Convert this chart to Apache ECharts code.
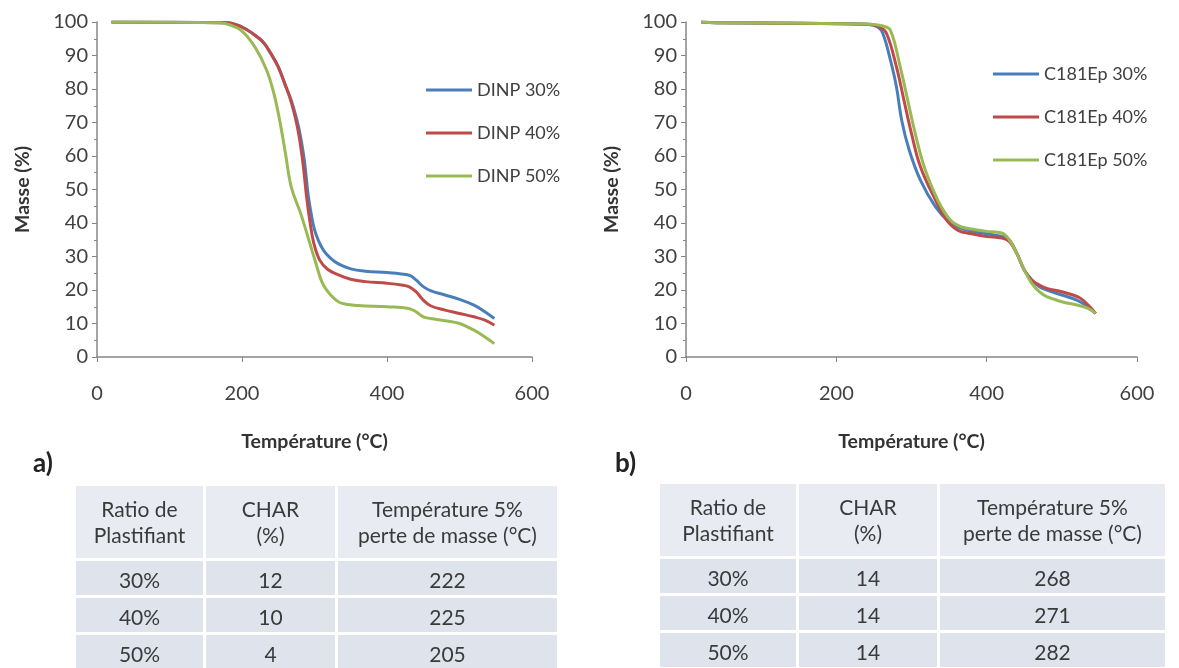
<!DOCTYPE html>
<html>
<head>
<meta charset="utf-8">
<script src="https://cdn.jsdelivr.net/npm/echarts@6/dist/echarts.min.js"></script>
<style>
  html, body { margin: 0; padding: 0; background: #fff; }
  #wrap { position: relative; width: 1179px; height: 668px; overflow: hidden; }
  #chart { position: absolute; left: 0; top: 0; width: 1179px; height: 668px; }
  table.tg { position: absolute; border-collapse: separate; border-spacing: 3px; font-family: Lato, "Open Sans", sans-serif; color: #3a3a3a; }
  table.tg td { text-align: center; padding: 0; background: #dfe4ec; font-size: 21px; line-height: 26px; box-sizing: border-box; }
  table.tg tr.hd td { background: #e8ebf1; height: 72px; }
  table.tg tr.rw td { height: 34px; padding-top: 4px; }
</style>
</head>
<body>
<div id="wrap">
  <div id="chart"></div>
  <table class="tg" id="tabA"></table>
  <table class="tg" id="tabB"></table>
</div>
<script>
// ---- données ATG ----
// a) DINP
var dinp30T = [20, 180, 200, 215, 229, 240, 250, 260, 268, 278, 286, 291, 296, 300, 305, 312, 322, 333, 350, 370, 400, 420, 432, 440, 450, 460, 480, 500, 520, 535, 548];
var dinp30M = [100, 99.8, 98.5, 96.5, 94, 90.5, 86.6, 81, 76.6, 68.7, 58.7, 48.8, 42, 38, 35, 32, 29.5, 27.8, 26.3, 25.6, 25.2, 24.8, 24.3, 23, 21, 19.8, 18.5, 17.2, 15.5, 13.5, 11.5];
var dinp40T = [20, 180, 200, 215, 229, 240, 250, 260, 268, 277, 284, 289, 294, 299, 307, 318, 333, 350, 370, 400, 420, 430, 440, 450, 460, 480, 500, 520, 535, 548];
var dinp40M = [100, 99.8, 98.5, 96.5, 94, 90.5, 86.6, 81, 76, 68, 58, 48, 40, 34, 29, 26.2, 24.5, 23.2, 22.5, 22, 21.5, 21, 19.5, 17, 15.3, 14, 13, 12, 11, 9.5];
var dinp50T = [20, 170, 185, 200, 218, 234, 244, 252, 260, 268, 281, 291, 302, 310, 317, 328, 338, 360, 400, 430, 440, 450, 460, 480, 500, 520, 535, 548];
var dinp50M = [100, 99.8, 99, 97.3, 92.5, 85.6, 78.6, 70.6, 60.7, 50.7, 42.8, 35.8, 27.9, 22.5, 19.9, 17.3, 16, 15.4, 15, 14.5, 13.5, 12, 11.5, 10.8, 10, 8, 6, 4];

// b) C181Ep
var c30T = [20, 40, 150, 240, 255, 262, 272, 280, 287, 297, 312, 332, 350, 362, 380, 400, 420, 430, 440, 450, 460, 470, 480, 500, 520, 535, 545];
var c30M = [100, 99.8, 99.6, 99.3, 98.5, 96.5, 88.6, 80.6, 70.6, 61.7, 52.7, 44.8, 40.3, 38.8, 37.5, 36.8, 36, 35, 31, 26, 23, 21, 20, 18.5, 17, 15, 13];
var c40T = [20, 40, 150, 240, 258, 267, 280, 290, 300, 312, 332, 347, 362, 380, 400, 420, 430, 440, 450, 460, 470, 480, 500, 515, 525, 535, 545];
var c40M = [100, 99.8, 99.6, 99.3, 98.5, 96.5, 86.6, 76.6, 66.7, 56.7, 46.8, 40.8, 37.8, 36.8, 36, 35.5, 34.5, 31, 26, 23, 21.5, 20.5, 19.5, 18.5, 17.5, 15.5, 13];
var c50T = [20, 40, 150, 240, 262, 272, 285, 295, 305, 317, 335, 352, 367, 385, 400, 420, 430, 440, 450, 460, 470, 480, 500, 520, 535, 545];
var c50M = [100, 99.8, 99.6, 99.4, 98.8, 97.5, 86.6, 76.6, 66.7, 56.7, 46.8, 40.8, 38.8, 38, 37.5, 37, 35, 31, 26, 22, 19.5, 18, 16.5, 15.5, 14.5, 13];

var namesA = ['DINP 30%', 'DINP 40%', 'DINP 50%'];
var namesB = ['C181Ep 30%', 'C181Ep 40%', 'C181Ep 50%'];
var couleurs = ['#4a7ebb', '#be4b48', '#98b954'];

// tableaux
var tabHeader = ['Ratio de<br>Plastifiant', 'CHAR<br>(%)', 'Température 5%<br>perte de masse (°C)'];
var ratios = ['30%', '40%', '50%'];
var charA = [12, 10, 4];
var t5A = [222, 225, 205];
var charB = [14, 14, 14];
var t5B = [268, 271, 282];

function paires(t, m) {
  return t.map(function (v, i) { return [v, m[i]]; });
}

var police = 'Lato, "Open Sans", sans-serif';
var gris = '#868686';
var texte = '#404040';

function axeX(idx) {
  return {
    type: 'value', gridIndex: idx, min: 0, max: 600, interval: 200,
    name: 'Température (°C)', nameLocation: 'middle', nameGap: 75,
    nameTextStyle: { fontFamily: police, fontWeight: 'bold', fontSize: 19.5, color: '#333' },
    axisLine: { lineStyle: { color: gris, width: 1.5 } },
    axisTick: { show: true, length: 5, lineStyle: { color: gris } },
    axisLabel: { fontFamily: police, fontSize: 20, color: texte, margin: 27 },
    splitLine: { show: false }
  };
}
function axeY(idx) {
  return {
    type: 'value', gridIndex: idx, min: 0, max: 100, interval: 10,
    name: 'Masse (%)', nameLocation: 'middle', nameGap: 64, nameRotate: 90,
    nameTextStyle: { fontFamily: police, fontWeight: 'bold', fontSize: 19.5, color: '#333' },
    axisLine: { show: true, lineStyle: { color: gris, width: 1.5 } },
    axisTick: { show: true, length: 5, lineStyle: { color: gris } },
    minorTick: { show: true, splitNumber: 2, length: 3, lineStyle: { color: gris } },
    axisLabel: { fontFamily: police, fontSize: 20, color: texte, margin: 9 },
    splitLine: { show: false }
  };
}
function serie(nom, t, m, c, idx) {
  return {
    name: nom, type: 'line', xAxisIndex: idx, yAxisIndex: idx,
    data: paires(t, m), showSymbol: false, smooth: 0.4,
    lineStyle: { color: c, width: 3 }, itemStyle: { color: c }
  };
}
function legende(noms, left, top) {
  return {
    data: noms, orient: 'vertical', left: left, top: top,
    icon: 'rect', itemWidth: 46, itemHeight: 3, itemGap: 23,
    textStyle: { fontFamily: police, fontSize: 18, color: texte, lineHeight: 20 }
  };
}

var chart = echarts.init(document.getElementById('chart'));
var option = {
  animation: false,
  grid: [
    { left: 97, top: 22, width: 435, height: 335 },
    { left: 686, top: 22, width: 451, height: 335 }
  ],
  xAxis: [axeX(0), axeX(1)],
  yAxis: [axeY(0), axeY(1)],
  legend: [legende(namesA, 421, 75), legende(namesB, 988, 59)],
  series: [
    serie(namesA[0], dinp30T, dinp30M, couleurs[0], 0),
    serie(namesA[1], dinp40T, dinp40M, couleurs[1], 0),
    serie(namesA[2], dinp50T, dinp50M, couleurs[2], 0),
    serie(namesB[0], c30T, c30M, couleurs[0], 1),
    serie(namesB[1], c40T, c40M, couleurs[1], 1),
    serie(namesB[2], c50T, c50M, couleurs[2], 1)
  ],
  graphic: [
    { type: 'text', left: 33, top: 451, style: { text: 'a)', font: 'bold 26px ' + police, fill: '#222' } },
    { type: 'text', left: 615, top: 451, style: { text: 'b)', font: 'bold 26px ' + police, fill: '#222' } }
  ]
};
chart.setOption(option);

function remplir(id, left, top, larg, chars, t5) {
  var tb = document.getElementById(id);
  tb.style.left = left + 'px';
  tb.style.top = top + 'px';
  var h = '<tr class="hd">';
  tabHeader.forEach(function (s, i) { h += '<td style="width:' + larg[i] + 'px">' + s + '</td>'; });
  h += '</tr>';
  ratios.forEach(function (r, i) {
    h += '<tr class="rw"><td>' + r + '</td><td>' + chars[i] + '</td><td>' + t5[i] + '</td></tr>';
  });
  tb.innerHTML = h;
}
remplir('tabA', 73, 483, [127, 129, 219], charA, t5A);
remplir('tabB', 657, 481, [136, 138, 225], charB, t5B);

window.addEventListener('resize', function () { chart.resize(); });
</script>
</body>
</html>
